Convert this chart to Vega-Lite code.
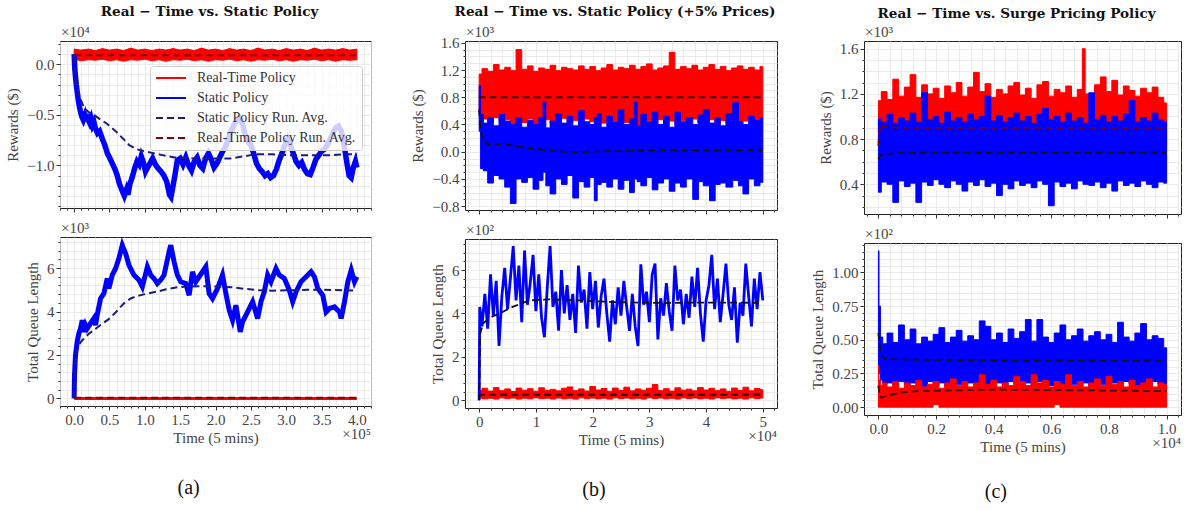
{
"$schema":"https://vega.github.io/schema/vega-lite/v6.json",
"background":"white",
"padding":{"left":5,"top":4,"right":5,"bottom":5},
"config":{
 "font":"Liberation Serif",
 "view":{"stroke":"#222222","strokeWidth":1},
 "axis":{"labelFont":"Liberation Serif","labelFontSize":15,"labelColor":"#444444","titleFont":"Liberation Serif","titleFontSize":15,"titleColor":"#444444","titleFontWeight":"normal","domain":false,"tickColor":"#333333","labelPadding":2,"gridWidth":0.8},
 "title":{"font":"DejaVu Serif","fontSize":13.6,"fontWeight":"bold","color":"#111111"}
},
"datasets":{
 "aTopBand":[{"x":0,"lo":0.05,"hi":0.15},{"x":0.1,"lo":0.035,"hi":0.14},{"x":0.2,"lo":0.045,"hi":0.15},{"x":0.3,"lo":0.04,"hi":0.135},{"x":0.4,"lo":0.05,"hi":0.155},{"x":0.5,"lo":0.035,"hi":0.14},{"x":0.6,"lo":0.045,"hi":0.15},{"x":0.7,"lo":0.03,"hi":0.135},{"x":0.8,"lo":0.045,"hi":0.16},{"x":0.9,"lo":0.04,"hi":0.14},{"x":1.0,"lo":0.05,"hi":0.15},{"x":1.1,"lo":0.035,"hi":0.135},{"x":1.2,"lo":0.045,"hi":0.15},{"x":1.3,"lo":0.03,"hi":0.14},{"x":1.4,"lo":0.045,"hi":0.155},{"x":1.5,"lo":0.04,"hi":0.14},{"x":1.6,"lo":0.05,"hi":0.15},{"x":1.7,"lo":0.035,"hi":0.135},{"x":1.8,"lo":0.045,"hi":0.16},{"x":1.9,"lo":0.03,"hi":0.14},{"x":2.0,"lo":0.045,"hi":0.15},{"x":2.1,"lo":0.04,"hi":0.135},{"x":2.2,"lo":0.05,"hi":0.155},{"x":2.3,"lo":0.035,"hi":0.14},{"x":2.4,"lo":0.045,"hi":0.15},{"x":2.5,"lo":0.03,"hi":0.135},{"x":2.6,"lo":0.045,"hi":0.16},{"x":2.7,"lo":0.04,"hi":0.14},{"x":2.8,"lo":0.05,"hi":0.15},{"x":2.9,"lo":0.035,"hi":0.135},{"x":3.0,"lo":0.045,"hi":0.155},{"x":3.1,"lo":0.03,"hi":0.14},{"x":3.2,"lo":0.045,"hi":0.15},{"x":3.3,"lo":0.04,"hi":0.135},{"x":3.4,"lo":0.05,"hi":0.16},{"x":3.5,"lo":0.035,"hi":0.14},{"x":3.6,"lo":0.045,"hi":0.15},{"x":3.7,"lo":0.03,"hi":0.14},{"x":3.8,"lo":0.045,"hi":0.155},{"x":3.9,"lo":0.04,"hi":0.14},{"x":4.0,"lo":0.045,"hi":0.15}],
 "aTopLines":[
  {"s":"Static Policy","x":0,"y":0.1},{"s":"Static Policy","x":0.01,"y":-0.05},{"s":"Static Policy","x":0.02,"y":-0.13},{"s":"Static Policy","x":0.03,"y":-0.2},{"s":"Static Policy","x":0.045,"y":-0.28},{"s":"Static Policy","x":0.06,"y":-0.36},{"s":"Static Policy","x":0.075,"y":-0.42},{"s":"Static Policy","x":0.09,"y":-0.47},{"s":"Static Policy","x":0.11,"y":-0.52},{"s":"Static Policy","x":0.13,"y":-0.55},{"s":"Static Policy","x":0.15,"y":-0.51},{"s":"Static Policy","x":0.165,"y":-0.56},{"s":"Static Policy","x":0.185,"y":-0.49},{"s":"Static Policy","x":0.2,"y":-0.55},{"s":"Static Policy","x":0.22,"y":-0.58},{"s":"Static Policy","x":0.24,"y":-0.54},{"s":"Static Policy","x":0.26,"y":-0.6},{"s":"Static Policy","x":0.28,"y":-0.57},{"s":"Static Policy","x":0.3,"y":-0.63},{"s":"Static Policy","x":0.33,"y":-0.68},{"s":"Static Policy","x":0.36,"y":-0.66},{"s":"Static Policy","x":0.4,"y":-0.74},{"s":"Static Policy","x":0.43,"y":-0.79},{"s":"Static Policy","x":0.47,"y":-0.88},{"s":"Static Policy","x":0.5,"y":-0.92},{"s":"Static Policy","x":0.54,"y":-0.98},{"s":"Static Policy","x":0.58,"y":-1.04},{"s":"Static Policy","x":0.61,"y":-1.1},{"s":"Static Policy","x":0.64,"y":-1.18},{"s":"Static Policy","x":0.68,"y":-1.25},{"s":"Static Policy","x":0.71,"y":-1.3},{"s":"Static Policy","x":0.74,"y":-1.24},{"s":"Static Policy","x":0.76,"y":-1.29},{"s":"Static Policy","x":0.79,"y":-1.18},{"s":"Static Policy","x":0.82,"y":-1.12},{"s":"Static Policy","x":0.86,"y":-1.02},{"s":"Static Policy","x":0.89,"y":-0.96},{"s":"Static Policy","x":0.92,"y":-0.99},{"s":"Static Policy","x":0.95,"y":-0.91},{"s":"Static Policy","x":0.98,"y":-0.97},{"s":"Static Policy","x":1.01,"y":-1.06},{"s":"Static Policy","x":1.04,"y":-1.02},{"s":"Static Policy","x":1.08,"y":-0.97},{"s":"Static Policy","x":1.11,"y":-0.93},{"s":"Static Policy","x":1.15,"y":-0.99},{"s":"Static Policy","x":1.19,"y":-1.03},{"s":"Static Policy","x":1.23,"y":-1.06},{"s":"Static Policy","x":1.27,"y":-1.1},{"s":"Static Policy","x":1.31,"y":-1.16},{"s":"Static Policy","x":1.35,"y":-1.29},{"s":"Static Policy","x":1.37,"y":-1.31},{"s":"Static Policy","x":1.4,"y":-1.2},{"s":"Static Policy","x":1.43,"y":-1.08},{"s":"Static Policy","x":1.46,"y":-0.95},{"s":"Static Policy","x":1.5,"y":-0.93},{"s":"Static Policy","x":1.54,"y":-0.99},{"s":"Static Policy","x":1.58,"y":-0.92},{"s":"Static Policy","x":1.62,"y":-1.0},{"s":"Static Policy","x":1.66,"y":-1.05},{"s":"Static Policy","x":1.7,"y":-0.96},{"s":"Static Policy","x":1.74,"y":-0.92},{"s":"Static Policy","x":1.78,"y":-1.0},{"s":"Static Policy","x":1.82,"y":-1.03},{"s":"Static Policy","x":1.86,"y":-0.93},{"s":"Static Policy","x":1.9,"y":-0.88},{"s":"Static Policy","x":1.94,"y":-0.94},{"s":"Static Policy","x":1.98,"y":-1.02},{"s":"Static Policy","x":2.02,"y":-0.98},{"s":"Static Policy","x":2.06,"y":-0.92},{"s":"Static Policy","x":2.1,"y":-0.86},{"s":"Static Policy","x":2.14,"y":-0.82},{"s":"Static Policy","x":2.18,"y":-0.74},{"s":"Static Policy","x":2.22,"y":-0.66},{"s":"Static Policy","x":2.26,"y":-0.6},{"s":"Static Policy","x":2.3,"y":-0.55},{"s":"Static Policy","x":2.34,"y":-0.53},{"s":"Static Policy","x":2.38,"y":-0.58},{"s":"Static Policy","x":2.42,"y":-0.7},{"s":"Static Policy","x":2.46,"y":-0.76},{"s":"Static Policy","x":2.5,"y":-0.8},{"s":"Static Policy","x":2.54,"y":-0.88},{"s":"Static Policy","x":2.58,"y":-0.98},{"s":"Static Policy","x":2.62,"y":-1.03},{"s":"Static Policy","x":2.66,"y":-1.06},{"s":"Static Policy","x":2.7,"y":-1.1},{"s":"Static Policy","x":2.74,"y":-1.08},{"s":"Static Policy","x":2.78,"y":-1.12},{"s":"Static Policy","x":2.82,"y":-1.1},{"s":"Static Policy","x":2.86,"y":-1.04},{"s":"Static Policy","x":2.9,"y":-0.95},{"s":"Static Policy","x":2.94,"y":-0.88},{"s":"Static Policy","x":2.98,"y":-0.8},{"s":"Static Policy","x":3.02,"y":-0.74},{"s":"Static Policy","x":3.06,"y":-0.8},{"s":"Static Policy","x":3.1,"y":-0.88},{"s":"Static Policy","x":3.14,"y":-0.96},{"s":"Static Policy","x":3.18,"y":-1.0},{"s":"Static Policy","x":3.22,"y":-0.97},{"s":"Static Policy","x":3.26,"y":-1.04},{"s":"Static Policy","x":3.3,"y":-1.08},{"s":"Static Policy","x":3.34,"y":-1.09},{"s":"Static Policy","x":3.38,"y":-1.02},{"s":"Static Policy","x":3.42,"y":-0.94},{"s":"Static Policy","x":3.46,"y":-0.9},{"s":"Static Policy","x":3.5,"y":-0.86},{"s":"Static Policy","x":3.54,"y":-0.84},{"s":"Static Policy","x":3.58,"y":-0.8},{"s":"Static Policy","x":3.62,"y":-0.74},{"s":"Static Policy","x":3.66,"y":-0.68},{"s":"Static Policy","x":3.7,"y":-0.63},{"s":"Static Policy","x":3.74,"y":-0.61},{"s":"Static Policy","x":3.78,"y":-0.66},{"s":"Static Policy","x":3.82,"y":-0.8},{"s":"Static Policy","x":3.86,"y":-0.98},{"s":"Static Policy","x":3.89,"y":-1.1},{"s":"Static Policy","x":3.92,"y":-1.12},{"s":"Static Policy","x":3.95,"y":-1.02},{"s":"Static Policy","x":3.98,"y":-0.96},{"s":"Static Policy","x":4.0,"y":-1.02},
  {"s":"Static Policy Run. Avg.","x":0,"y":0.08},{"s":"Static Policy Run. Avg.","x":0.01,"y":-0.05},{"s":"Static Policy Run. Avg.","x":0.025,"y":-0.15},{"s":"Static Policy Run. Avg.","x":0.05,"y":-0.25},{"s":"Static Policy Run. Avg.","x":0.1,"y":-0.36},{"s":"Static Policy Run. Avg.","x":0.14,"y":-0.43},{"s":"Static Policy Run. Avg.","x":0.2,"y":-0.47},{"s":"Static Policy Run. Avg.","x":0.28,"y":-0.5},{"s":"Static Policy Run. Avg.","x":0.38,"y":-0.55},{"s":"Static Policy Run. Avg.","x":0.47,"y":-0.59},{"s":"Static Policy Run. Avg.","x":0.6,"y":-0.67},{"s":"Static Policy Run. Avg.","x":0.7,"y":-0.74},{"s":"Static Policy Run. Avg.","x":0.78,"y":-0.8},{"s":"Static Policy Run. Avg.","x":0.89,"y":-0.84},{"s":"Static Policy Run. Avg.","x":1.0,"y":-0.86},{"s":"Static Policy Run. Avg.","x":1.2,"y":-0.89},{"s":"Static Policy Run. Avg.","x":1.42,"y":-0.92},{"s":"Static Policy Run. Avg.","x":1.7,"y":-0.93},{"s":"Static Policy Run. Avg.","x":2.0,"y":-0.93},{"s":"Static Policy Run. Avg.","x":2.21,"y":-0.93},{"s":"Static Policy Run. Avg.","x":2.4,"y":-0.91},{"s":"Static Policy Run. Avg.","x":2.55,"y":-0.89},{"s":"Static Policy Run. Avg.","x":2.8,"y":-0.89},{"s":"Static Policy Run. Avg.","x":3.1,"y":-0.9},{"s":"Static Policy Run. Avg.","x":3.4,"y":-0.9},{"s":"Static Policy Run. Avg.","x":3.63,"y":-0.9},{"s":"Static Policy Run. Avg.","x":3.8,"y":-0.89},{"s":"Static Policy Run. Avg.","x":4.0,"y":-0.89},
  {"s":"Real-Time Policy Run. Avg.","x":0,"y":0.088},{"s":"Real-Time Policy Run. Avg.","x":4.0,"y":0.088}
 ],
 "aBotBlue":[{"x":0,"y":0},{"x":0.005,"y":1.06},{"x":0.019,"y":1.98},{"x":0.043,"y":2.6},{"x":0.066,"y":2.98},{"x":0.09,"y":3.21},{"x":0.114,"y":3.6},{"x":0.137,"y":3.06},{"x":0.161,"y":3.37},{"x":0.184,"y":3.21},{"x":0.232,"y":3.45},{"x":0.279,"y":3.68},{"x":0.303,"y":3.37},{"x":0.326,"y":3.83},{"x":0.374,"y":4.6},{"x":0.421,"y":4.83},{"x":0.468,"y":5.52},{"x":0.492,"y":5.06},{"x":0.539,"y":5.68},{"x":0.586,"y":5.98},{"x":0.634,"y":6.45},{"x":0.681,"y":7.05},{"x":0.705,"y":6.85},{"x":0.728,"y":6.68},{"x":0.775,"y":6.14},{"x":0.846,"y":5.68},{"x":0.917,"y":5.45},{"x":0.965,"y":5.14},{"x":1.036,"y":6.06},{"x":1.083,"y":5.68},{"x":1.13,"y":5.52},{"x":1.177,"y":5.29},{"x":1.225,"y":5.45},{"x":1.272,"y":5.68},{"x":1.343,"y":6.75},{"x":1.367,"y":7.05},{"x":1.414,"y":6.29},{"x":1.461,"y":5.68},{"x":1.508,"y":5.37},{"x":1.579,"y":5.29},{"x":1.627,"y":4.75},{"x":1.674,"y":5.83},{"x":1.721,"y":5.37},{"x":1.768,"y":5.6},{"x":1.816,"y":5.83},{"x":1.863,"y":6.06},{"x":1.91,"y":4.83},{"x":1.958,"y":4.6},{"x":2.029,"y":5.06},{"x":2.099,"y":5.68},{"x":2.147,"y":4.83},{"x":2.194,"y":4.06},{"x":2.241,"y":3.6},{"x":2.289,"y":4.29},{"x":2.35,"y":3.06},{"x":2.383,"y":3.52},{"x":2.454,"y":3.98},{"x":2.525,"y":4.45},{"x":2.596,"y":3.68},{"x":2.643,"y":4.45},{"x":2.69,"y":4.91},{"x":2.738,"y":5.68},{"x":2.785,"y":5.37},{"x":2.856,"y":5.98},{"x":2.903,"y":5.68},{"x":2.974,"y":5.52},{"x":3.045,"y":4.98},{"x":3.092,"y":4.45},{"x":3.14,"y":4.91},{"x":3.21,"y":5.37},{"x":3.281,"y":5.6},{"x":3.352,"y":5.83},{"x":3.4,"y":5.6},{"x":3.447,"y":5.06},{"x":3.518,"y":4.75},{"x":3.565,"y":3.98},{"x":3.612,"y":4.14},{"x":3.683,"y":4.21},{"x":3.754,"y":3.98},{"x":3.778,"y":3.68},{"x":3.825,"y":4.45},{"x":3.872,"y":5.37},{"x":3.92,"y":5.91},{"x":3.967,"y":5.37},{"x":4.0,"y":5.6}],
 "aBotAvg":[{"x":0,"y":0},{"x":0.005,"y":1.0},{"x":0.019,"y":1.68},{"x":0.04,"y":2.2},{"x":0.066,"y":2.45},{"x":0.1,"y":2.62},{"x":0.137,"y":2.75},{"x":0.2,"y":2.95},{"x":0.28,"y":3.15},{"x":0.374,"y":3.38},{"x":0.49,"y":3.65},{"x":0.6,"y":4.0},{"x":0.705,"y":4.38},{"x":0.8,"y":4.6},{"x":0.9,"y":4.72},{"x":1.0,"y":4.8},{"x":1.177,"y":4.92},{"x":1.3,"y":5.02},{"x":1.461,"y":5.12},{"x":1.6,"y":5.15},{"x":1.8,"y":5.16},{"x":2.03,"y":5.15},{"x":2.22,"y":5.12},{"x":2.4,"y":5.05},{"x":2.6,"y":4.98},{"x":2.8,"y":4.96},{"x":3.07,"y":4.98},{"x":3.3,"y":5.0},{"x":3.54,"y":5.0},{"x":3.8,"y":4.98},{"x":4.0,"y":4.96}],
 "aBotRed":[{"x":0,"y":0},{"x":4.0,"y":0}],
 "aBotRedAvg":[{"x":0,"y":0.03},{"x":4.0,"y":0.03}],
 "bTopRed":[{"x":0,"lo":0.55,"hi":1.14},{"x":0.1,"lo":0.48,"hi":1.22},{"x":0.2,"lo":0.44,"hi":1.18},{"x":0.3,"lo":0.5,"hi":1.28},{"x":0.4,"lo":0.45,"hi":1.2},{"x":0.5,"lo":0.47,"hi":1.24},{"x":0.6,"lo":0.4,"hi":1.19},{"x":0.7,"lo":0.46,"hi":1.5},{"x":0.8,"lo":0.43,"hi":1.21},{"x":0.9,"lo":0.48,"hi":1.26},{"x":1.0,"lo":0.33,"hi":1.18},{"x":1.1,"lo":0.44,"hi":1.23},{"x":1.2,"lo":0.47,"hi":1.21},{"x":1.3,"lo":0.42,"hi":1.27},{"x":1.4,"lo":0.45,"hi":1.19},{"x":1.5,"lo":0.49,"hi":1.24},{"x":1.6,"lo":0.43,"hi":1.22},{"x":1.7,"lo":0.46,"hi":1.2},{"x":1.8,"lo":0.41,"hi":1.26},{"x":1.9,"lo":0.48,"hi":1.21},{"x":2.0,"lo":0.44,"hi":1.25},{"x":2.1,"lo":0.47,"hi":1.19},{"x":2.2,"lo":0.42,"hi":1.23},{"x":2.3,"lo":0.45,"hi":1.28},{"x":2.4,"lo":0.4,"hi":1.2},{"x":2.5,"lo":0.46,"hi":1.24},{"x":2.6,"lo":0.43,"hi":1.22},{"x":2.7,"lo":0.47,"hi":1.27},{"x":2.8,"lo":0.38,"hi":1.21},{"x":2.9,"lo":0.44,"hi":1.25},{"x":3.0,"lo":0.46,"hi":1.29},{"x":3.1,"lo":0.41,"hi":1.2},{"x":3.2,"lo":0.47,"hi":1.23},{"x":3.3,"lo":0.43,"hi":1.26},{"x":3.4,"lo":0.45,"hi":1.46},{"x":3.5,"lo":0.4,"hi":1.21},{"x":3.6,"lo":0.46,"hi":1.25},{"x":3.7,"lo":0.43,"hi":1.22},{"x":3.8,"lo":0.48,"hi":1.27},{"x":3.9,"lo":0.42,"hi":1.2},{"x":4.0,"lo":0.45,"hi":1.24},{"x":4.1,"lo":0.47,"hi":1.28},{"x":4.2,"lo":0.41,"hi":1.21},{"x":4.3,"lo":0.46,"hi":1.25},{"x":4.4,"lo":0.43,"hi":1.19},{"x":4.5,"lo":0.48,"hi":1.23},{"x":4.6,"lo":0.42,"hi":1.26},{"x":4.7,"lo":0.45,"hi":1.21},{"x":4.8,"lo":0.47,"hi":1.24},{"x":4.9,"lo":0.44,"hi":1.2},{"x":5.0,"lo":0.48,"hi":1.25}],
 "bTopBlue":[{"x":0,"lo":0.3,"hi":0.97},{"x":0.05,"lo":-0.25,"hi":0.55},{"x":0.1,"lo":-0.28,"hi":0.42},{"x":0.2,"lo":-0.46,"hi":0.5},{"x":0.3,"lo":-0.35,"hi":0.38},{"x":0.4,"lo":-0.4,"hi":0.55},{"x":0.5,"lo":-0.52,"hi":0.45},{"x":0.6,"lo":-0.76,"hi":0.4},{"x":0.7,"lo":-0.4,"hi":0.5},{"x":0.8,"lo":-0.45,"hi":0.36},{"x":0.9,"lo":-0.38,"hi":0.46},{"x":1.0,"lo":-0.55,"hi":0.4},{"x":1.1,"lo":-0.42,"hi":0.5},{"x":1.15,"lo":-0.3,"hi":0.73},{"x":1.2,"lo":-0.5,"hi":0.35},{"x":1.3,"lo":-0.62,"hi":0.45},{"x":1.4,"lo":-0.4,"hi":0.56},{"x":1.5,"lo":-0.48,"hi":0.42},{"x":1.6,"lo":-0.35,"hi":0.52},{"x":1.7,"lo":-0.68,"hi":0.38},{"x":1.8,"lo":-0.44,"hi":0.6},{"x":1.9,"lo":-0.52,"hi":0.44},{"x":2.0,"lo":-0.38,"hi":0.4},{"x":2.06,"lo":-0.72,"hi":0.5},{"x":2.1,"lo":-0.48,"hi":0.56},{"x":2.2,"lo":-0.45,"hi":0.36},{"x":2.3,"lo":-0.52,"hi":0.52},{"x":2.4,"lo":-0.4,"hi":0.43},{"x":2.5,"lo":-0.55,"hi":0.62},{"x":2.6,"lo":-0.42,"hi":0.4},{"x":2.7,"lo":-0.6,"hi":0.48},{"x":2.77,"lo":-0.4,"hi":0.73},{"x":2.8,"lo":-0.44,"hi":0.38},{"x":2.9,"lo":-0.5,"hi":0.55},{"x":3.0,"lo":-0.38,"hi":0.44},{"x":3.1,"lo":-0.56,"hi":0.58},{"x":3.2,"lo":-0.46,"hi":0.4},{"x":3.3,"lo":-0.4,"hi":0.52},{"x":3.4,"lo":-0.58,"hi":0.36},{"x":3.5,"lo":-0.46,"hi":0.58},{"x":3.6,"lo":-0.52,"hi":0.44},{"x":3.7,"lo":-0.4,"hi":0.5},{"x":3.83,"lo":-0.7,"hi":0.4},{"x":3.9,"lo":-0.44,"hi":0.54},{"x":4.0,"lo":-0.5,"hi":0.62},{"x":4.12,"lo":-0.72,"hi":0.42},{"x":4.2,"lo":-0.48,"hi":0.5},{"x":4.3,"lo":-0.46,"hi":0.38},{"x":4.4,"lo":-0.52,"hi":0.56},{"x":4.54,"lo":-0.42,"hi":0.72},{"x":4.6,"lo":-0.5,"hi":0.44},{"x":4.7,"lo":-0.62,"hi":0.4},{"x":4.8,"lo":-0.4,"hi":0.52},{"x":4.9,"lo":-0.5,"hi":0.46},{"x":5.0,"lo":-0.45,"hi":0.5}],
 "bTopAvgR":[{"x":0,"y":0.82},{"x":0.02,"y":0.8},{"x":5.0,"y":0.8}],
 "bTopAvgB":[{"x":0,"y":0.62},{"x":0.02,"y":0.35},{"x":0.05,"y":0.22},{"x":0.1,"y":0.15},{"x":0.15,"y":0.11},{"x":0.25,"y":0.1},{"x":0.4,"y":0.12},{"x":0.6,"y":0.09},{"x":0.8,"y":0.06},{"x":1.0,"y":0.04},{"x":1.3,"y":0.01},{"x":1.6,"y":-0.005},{"x":2.0,"y":0.0},{"x":2.5,"y":0.01},{"x":3.0,"y":0.02},{"x":4.0,"y":0.02},{"x":5.0,"y":0.02}],
 "bBotBlue":[{"x":0,"y":0},{"x":0.01,"y":4.3},{"x":0.05,"y":3.4},{"x":0.1,"y":4.9},{"x":0.15,"y":3.3},{"x":0.2,"y":5.8},{"x":0.25,"y":3.9},{"x":0.3,"y":5.5},{"x":0.35,"y":2.5},{"x":0.4,"y":4.8},{"x":0.45,"y":6.1},{"x":0.5,"y":4.2},{"x":0.55,"y":5.6},{"x":0.6,"y":7.1},{"x":0.65,"y":4.6},{"x":0.7,"y":6.2},{"x":0.75,"y":3.6},{"x":0.8,"y":6.9},{"x":0.85,"y":4.4},{"x":0.9,"y":5.4},{"x":0.95,"y":6.7},{"x":1.0,"y":4.1},{"x":1.05,"y":5.8},{"x":1.1,"y":3.8},{"x":1.15,"y":2.9},{"x":1.2,"y":5.2},{"x":1.25,"y":7.1},{"x":1.3,"y":4.3},{"x":1.35,"y":5.0},{"x":1.4,"y":3.2},{"x":1.45,"y":6.0},{"x":1.5,"y":4.0},{"x":1.55,"y":5.3},{"x":1.6,"y":3.7},{"x":1.65,"y":4.9},{"x":1.7,"y":3.1},{"x":1.75,"y":6.2},{"x":1.8,"y":4.5},{"x":1.85,"y":5.1},{"x":1.9,"y":3.3},{"x":1.95,"y":5.9},{"x":2.0,"y":4.2},{"x":2.05,"y":5.5},{"x":2.1,"y":3.35},{"x":2.15,"y":4.8},{"x":2.2,"y":5.6},{"x":2.25,"y":4.0},{"x":2.3,"y":2.7},{"x":2.35,"y":4.6},{"x":2.4,"y":3.5},{"x":2.45,"y":5.2},{"x":2.5,"y":3.9},{"x":2.55,"y":5.5},{"x":2.6,"y":4.3},{"x":2.65,"y":3.2},{"x":2.7,"y":4.9},{"x":2.75,"y":3.4},{"x":2.8,"y":2.5},{"x":2.85,"y":6.26},{"x":2.9,"y":4.4},{"x":2.95,"y":5.0},{"x":3.0,"y":3.6},{"x":3.05,"y":5.8},{"x":3.1,"y":6.3},{"x":3.15,"y":2.8},{"x":3.2,"y":4.7},{"x":3.25,"y":3.9},{"x":3.3,"y":5.4},{"x":3.35,"y":4.1},{"x":3.4,"y":3.2},{"x":3.45,"y":6.2},{"x":3.5,"y":4.6},{"x":3.55,"y":5.1},{"x":3.6,"y":3.5},{"x":3.65,"y":4.9},{"x":3.7,"y":3.8},{"x":3.75,"y":5.7},{"x":3.8,"y":4.3},{"x":3.85,"y":6.1},{"x":3.9,"y":4.0},{"x":3.95,"y":2.7},{"x":4.0,"y":4.6},{"x":4.05,"y":5.3},{"x":4.1,"y":6.7},{"x":4.15,"y":4.2},{"x":4.2,"y":5.6},{"x":4.25,"y":3.6},{"x":4.3,"y":4.9},{"x":4.35,"y":6.3},{"x":4.4,"y":4.4},{"x":4.45,"y":3.7},{"x":4.5,"y":5.2},{"x":4.55,"y":2.65},{"x":4.6,"y":4.5},{"x":4.65,"y":3.9},{"x":4.7,"y":6.3},{"x":4.75,"y":4.8},{"x":4.8,"y":3.4},{"x":4.85,"y":5.6},{"x":4.9,"y":4.2},{"x":4.95,"y":5.9},{"x":5.0,"y":4.6}],
 "bBotRed":[{"x":0,"lo":0.1,"hi":0.45},{"x":0.1,"lo":0.06,"hi":0.55},{"x":0.2,"lo":0.09,"hi":0.42},{"x":0.3,"lo":0.05,"hi":0.58},{"x":0.4,"lo":0.11,"hi":0.44},{"x":0.5,"lo":0.07,"hi":0.52},{"x":0.6,"lo":0.1,"hi":0.4},{"x":0.7,"lo":0.05,"hi":0.56},{"x":0.8,"lo":0.09,"hi":0.46},{"x":0.9,"lo":0.06,"hi":0.53},{"x":1.0,"lo":0.11,"hi":0.41},{"x":1.1,"lo":0.07,"hi":0.57},{"x":1.2,"lo":0.09,"hi":0.45},{"x":1.3,"lo":0.05,"hi":0.5},{"x":1.4,"lo":0.1,"hi":0.43},{"x":1.5,"lo":0.06,"hi":0.55},{"x":1.6,"lo":0.09,"hi":0.61},{"x":1.7,"lo":0.05,"hi":0.44},{"x":1.8,"lo":0.11,"hi":0.52},{"x":1.9,"lo":0.07,"hi":0.42},{"x":2.0,"lo":0.1,"hi":0.63},{"x":2.1,"lo":0.06,"hi":0.47},{"x":2.2,"lo":0.09,"hi":0.54},{"x":2.3,"lo":0.05,"hi":0.41},{"x":2.4,"lo":0.11,"hi":0.56},{"x":2.5,"lo":0.07,"hi":0.45},{"x":2.6,"lo":0.1,"hi":0.6},{"x":2.7,"lo":0.06,"hi":0.43},{"x":2.8,"lo":0.09,"hi":0.52},{"x":2.9,"lo":0.05,"hi":0.46},{"x":3.0,"lo":0.11,"hi":0.55},{"x":3.1,"lo":0.07,"hi":0.72},{"x":3.2,"lo":0.1,"hi":0.44},{"x":3.3,"lo":0.06,"hi":0.53},{"x":3.4,"lo":0.09,"hi":0.42},{"x":3.5,"lo":0.05,"hi":0.57},{"x":3.6,"lo":0.11,"hi":0.46},{"x":3.7,"lo":0.07,"hi":0.51},{"x":3.8,"lo":0.1,"hi":0.43},{"x":3.9,"lo":0.06,"hi":0.58},{"x":4.0,"lo":0.09,"hi":0.47},{"x":4.1,"lo":0.05,"hi":0.55},{"x":4.2,"lo":0.11,"hi":0.44},{"x":4.3,"lo":0.07,"hi":0.52},{"x":4.4,"lo":0.1,"hi":0.41},{"x":4.5,"lo":0.06,"hi":0.56},{"x":4.6,"lo":0.09,"hi":0.45},{"x":4.7,"lo":0.05,"hi":0.6},{"x":4.8,"lo":0.11,"hi":0.43},{"x":4.9,"lo":0.07,"hi":0.54},{"x":5.0,"lo":0.1,"hi":0.48}],
 "bBotAvgB":[{"x":0,"y":0},{"x":0.018,"y":3.06},{"x":0.065,"y":3.52},{"x":0.18,"y":3.8},{"x":0.36,"y":4.0},{"x":0.59,"y":4.3},{"x":0.89,"y":4.6},{"x":1.24,"y":4.65},{"x":1.77,"y":4.6},{"x":2.36,"y":4.52},{"x":3.24,"y":4.48},{"x":3.83,"y":4.5},{"x":4.95,"y":4.49}],
 "bBotAvgR":[{"x":0,"y":0.15},{"x":0.03,"y":0.25},{"x":5.0,"y":0.25}],
 "cTopRed":[{"x":0,"lo":0.75,"hi":1.14},{"x":0.02,"lo":0.75,"hi":1.22},{"x":0.04,"lo":0.75,"hi":1.15},{"x":0.06,"lo":0.75,"hi":1.33},{"x":0.08,"lo":0.75,"hi":1.18},{"x":0.1,"lo":0.75,"hi":1.26},{"x":0.12,"lo":0.75,"hi":1.37},{"x":0.14,"lo":0.75,"hi":1.17},{"x":0.16,"lo":0.75,"hi":1.28},{"x":0.18,"lo":0.75,"hi":1.2},{"x":0.2,"lo":0.75,"hi":1.25},{"x":0.22,"lo":0.75,"hi":1.16},{"x":0.24,"lo":0.75,"hi":1.27},{"x":0.26,"lo":0.75,"hi":1.21},{"x":0.28,"lo":0.75,"hi":1.3},{"x":0.3,"lo":0.75,"hi":1.18},{"x":0.32,"lo":0.75,"hi":1.26},{"x":0.34,"lo":0.75,"hi":1.39},{"x":0.36,"lo":0.75,"hi":1.22},{"x":0.38,"lo":0.75,"hi":1.29},{"x":0.4,"lo":0.75,"hi":1.17},{"x":0.42,"lo":0.75,"hi":1.24},{"x":0.44,"lo":0.75,"hi":1.2},{"x":0.46,"lo":0.75,"hi":1.27},{"x":0.48,"lo":0.75,"hi":1.3},{"x":0.5,"lo":0.75,"hi":1.19},{"x":0.52,"lo":0.75,"hi":1.25},{"x":0.54,"lo":0.75,"hi":1.16},{"x":0.56,"lo":0.75,"hi":1.28},{"x":0.58,"lo":0.75,"hi":1.31},{"x":0.6,"lo":0.75,"hi":1.18},{"x":0.62,"lo":0.75,"hi":1.24},{"x":0.64,"lo":0.75,"hi":1.21},{"x":0.66,"lo":0.75,"hi":1.27},{"x":0.68,"lo":0.75,"hi":1.17},{"x":0.7,"lo":0.75,"hi":1.24},{"x":0.715,"lo":0.75,"hi":1.6},{"x":0.72,"lo":0.75,"hi":1.2},{"x":0.74,"lo":0.75,"hi":1.2},{"x":0.76,"lo":0.75,"hi":1.28},{"x":0.78,"lo":0.75,"hi":1.35},{"x":0.8,"lo":0.75,"hi":1.22},{"x":0.82,"lo":0.75,"hi":1.32},{"x":0.84,"lo":0.75,"hi":1.19},{"x":0.86,"lo":0.75,"hi":1.27},{"x":0.88,"lo":0.75,"hi":1.23},{"x":0.9,"lo":0.75,"hi":1.18},{"x":0.92,"lo":0.75,"hi":1.25},{"x":0.94,"lo":0.75,"hi":1.21},{"x":0.96,"lo":0.75,"hi":1.26},{"x":0.98,"lo":0.75,"hi":1.17},{"x":1.0,"lo":0.75,"hi":1.12}],
 "cTopBlue":[{"x":0,"lo":0.33,"hi":0.98},{"x":0.02,"lo":0.42,"hi":0.95},{"x":0.04,"lo":0.4,"hi":1.02},{"x":0.06,"lo":0.24,"hi":0.94},{"x":0.08,"lo":0.43,"hi":0.99},{"x":0.1,"lo":0.38,"hi":0.96},{"x":0.12,"lo":0.41,"hi":1.03},{"x":0.14,"lo":0.24,"hi":0.95},{"x":0.16,"lo":0.42,"hi":1.21},{"x":0.18,"lo":0.39,"hi":0.97},{"x":0.2,"lo":0.44,"hi":1.0},{"x":0.22,"lo":0.4,"hi":0.94},{"x":0.24,"lo":0.37,"hi":1.04},{"x":0.26,"lo":0.43,"hi":0.96},{"x":0.28,"lo":0.4,"hi":0.99},{"x":0.3,"lo":0.34,"hi":0.95},{"x":0.32,"lo":0.42,"hi":1.02},{"x":0.34,"lo":0.39,"hi":0.97},{"x":0.36,"lo":0.44,"hi":1.0},{"x":0.38,"lo":0.38,"hi":1.18},{"x":0.4,"lo":0.41,"hi":0.96},{"x":0.42,"lo":0.3,"hi":1.01},{"x":0.44,"lo":0.4,"hi":0.95},{"x":0.46,"lo":0.36,"hi":0.99},{"x":0.48,"lo":0.43,"hi":1.03},{"x":0.5,"lo":0.39,"hi":0.96},{"x":0.52,"lo":0.41,"hi":1.0},{"x":0.54,"lo":0.37,"hi":0.94},{"x":0.56,"lo":0.43,"hi":1.02},{"x":0.58,"lo":0.4,"hi":1.07},{"x":0.6,"lo":0.21,"hi":0.97},{"x":0.62,"lo":0.42,"hi":1.0},{"x":0.64,"lo":0.38,"hi":0.95},{"x":0.66,"lo":0.41,"hi":1.03},{"x":0.68,"lo":0.36,"hi":0.96},{"x":0.7,"lo":0.43,"hi":0.99},{"x":0.72,"lo":0.4,"hi":0.94},{"x":0.74,"lo":0.39,"hi":1.21},{"x":0.76,"lo":0.42,"hi":0.97},{"x":0.78,"lo":0.37,"hi":1.01},{"x":0.8,"lo":0.41,"hi":0.95},{"x":0.82,"lo":0.34,"hi":1.0},{"x":0.84,"lo":0.43,"hi":0.96},{"x":0.86,"lo":0.39,"hi":1.02},{"x":0.88,"lo":0.41,"hi":1.14},{"x":0.9,"lo":0.38,"hi":0.95},{"x":0.92,"lo":0.43,"hi":0.99},{"x":0.94,"lo":0.4,"hi":0.96},{"x":0.96,"lo":0.37,"hi":1.03},{"x":0.98,"lo":0.42,"hi":0.97},{"x":1.0,"lo":0.41,"hi":0.95}],
 "cTopAvgR":[{"x":0,"y":0.74},{"x":0.003,"y":0.86},{"x":0.008,"y":0.93},{"x":0.015,"y":0.915},{"x":0.03,"y":0.905},{"x":0.1,"y":0.9},{"x":1.0,"y":0.9}],
 "cTopAvgB":[{"x":0,"y":0.62},{"x":0.004,"y":0.645},{"x":0.01,"y":0.66},{"x":0.03,"y":0.67},{"x":0.08,"y":0.678},{"x":0.2,"y":0.68},{"x":1.0,"y":0.68}],
 "cBotBlue":[{"x":0,"lo":0.3,"hi":1.16},{"x":0.004,"lo":0.25,"hi":0.75},{"x":0.01,"lo":0.2,"hi":0.52},{"x":0.02,"lo":0.17,"hi":0.47},{"x":0.04,"lo":0.18,"hi":0.55},{"x":0.06,"lo":0.15,"hi":0.48},{"x":0.08,"lo":0.19,"hi":0.61},{"x":0.1,"lo":0.16,"hi":0.5},{"x":0.12,"lo":0.18,"hi":0.58},{"x":0.14,"lo":0.17,"hi":0.47},{"x":0.16,"lo":0.15,"hi":0.52},{"x":0.18,"lo":0.19,"hi":0.49},{"x":0.2,"lo":0.16,"hi":0.54},{"x":0.22,"lo":0.18,"hi":0.59},{"x":0.24,"lo":0.15,"hi":0.48},{"x":0.26,"lo":0.19,"hi":0.52},{"x":0.28,"lo":0.17,"hi":0.57},{"x":0.3,"lo":0.16,"hi":0.49},{"x":0.32,"lo":0.18,"hi":0.53},{"x":0.34,"lo":0.15,"hi":0.5},{"x":0.36,"lo":0.19,"hi":0.64},{"x":0.38,"lo":0.17,"hi":0.6},{"x":0.4,"lo":0.16,"hi":0.5},{"x":0.42,"lo":0.18,"hi":0.55},{"x":0.44,"lo":0.15,"hi":0.48},{"x":0.46,"lo":0.19,"hi":0.58},{"x":0.48,"lo":0.17,"hi":0.51},{"x":0.5,"lo":0.16,"hi":0.56},{"x":0.52,"lo":0.18,"hi":0.65},{"x":0.54,"lo":0.15,"hi":0.49},{"x":0.56,"lo":0.19,"hi":0.65},{"x":0.58,"lo":0.17,"hi":0.52},{"x":0.6,"lo":0.16,"hi":0.48},{"x":0.62,"lo":0.18,"hi":0.55},{"x":0.64,"lo":0.15,"hi":0.61},{"x":0.66,"lo":0.19,"hi":0.5},{"x":0.68,"lo":0.17,"hi":0.53},{"x":0.7,"lo":0.16,"hi":0.58},{"x":0.72,"lo":0.18,"hi":0.49},{"x":0.74,"lo":0.15,"hi":0.53},{"x":0.76,"lo":0.19,"hi":0.56},{"x":0.78,"lo":0.17,"hi":0.5},{"x":0.8,"lo":0.16,"hi":0.54},{"x":0.82,"lo":0.18,"hi":0.48},{"x":0.84,"lo":0.15,"hi":0.63},{"x":0.86,"lo":0.19,"hi":0.52},{"x":0.88,"lo":0.17,"hi":0.49},{"x":0.9,"lo":0.16,"hi":0.55},{"x":0.92,"lo":0.18,"hi":0.62},{"x":0.94,"lo":0.15,"hi":0.5},{"x":0.96,"lo":0.19,"hi":0.53},{"x":0.98,"lo":0.17,"hi":0.51},{"x":1.0,"lo":0.16,"hi":0.44}],
 "cBotRed":[{"x":0,"lo":0,"hi":0.31},{"x":0.004,"lo":0,"hi":0.2},{"x":0.01,"lo":0,"hi":0.16},{"x":0.02,"lo":0,"hi":0.18},{"x":0.04,"lo":0,"hi":0.15},{"x":0.06,"lo":0,"hi":0.19},{"x":0.08,"lo":0,"hi":0.14},{"x":0.1,"lo":0,"hi":0.18},{"x":0.12,"lo":0,"hi":0.16},{"x":0.14,"lo":0,"hi":0.2},{"x":0.16,"lo":0,"hi":0.15},{"x":0.18,"lo":0,"hi":0.17},{"x":0.2,"lo":0.02,"hi":0.19},{"x":0.22,"lo":0,"hi":0.14},{"x":0.24,"lo":0,"hi":0.18},{"x":0.26,"lo":0,"hi":0.21},{"x":0.28,"lo":0,"hi":0.16},{"x":0.3,"lo":0,"hi":0.19},{"x":0.32,"lo":0,"hi":0.15},{"x":0.34,"lo":0,"hi":0.18},{"x":0.36,"lo":0,"hi":0.24},{"x":0.38,"lo":0,"hi":0.17},{"x":0.4,"lo":0,"hi":0.2},{"x":0.42,"lo":0,"hi":0.15},{"x":0.44,"lo":0,"hi":0.18},{"x":0.46,"lo":0,"hi":0.16},{"x":0.48,"lo":0,"hi":0.23},{"x":0.5,"lo":0,"hi":0.19},{"x":0.52,"lo":0,"hi":0.16},{"x":0.54,"lo":0,"hi":0.24},{"x":0.56,"lo":0,"hi":0.18},{"x":0.58,"lo":0,"hi":0.2},{"x":0.6,"lo":0,"hi":0.15},{"x":0.62,"lo":0.02,"hi":0.19},{"x":0.64,"lo":0,"hi":0.17},{"x":0.66,"lo":0,"hi":0.24},{"x":0.68,"lo":0,"hi":0.16},{"x":0.7,"lo":0,"hi":0.19},{"x":0.72,"lo":0,"hi":0.15},{"x":0.74,"lo":0,"hi":0.18},{"x":0.76,"lo":0,"hi":0.21},{"x":0.78,"lo":0,"hi":0.16},{"x":0.8,"lo":0,"hi":0.23},{"x":0.82,"lo":0,"hi":0.17},{"x":0.84,"lo":0,"hi":0.19},{"x":0.86,"lo":0,"hi":0.15},{"x":0.88,"lo":0,"hi":0.2},{"x":0.9,"lo":0,"hi":0.16},{"x":0.92,"lo":0,"hi":0.18},{"x":0.94,"lo":0,"hi":0.21},{"x":0.96,"lo":0,"hi":0.15},{"x":0.98,"lo":0,"hi":0.18},{"x":1.0,"lo":0,"hi":0.17}],
 "cBotAvgB":[{"x":0,"y":0.55},{"x":0.005,"y":0.44},{"x":0.012,"y":0.38},{"x":0.025,"y":0.36},{"x":0.05,"y":0.355},{"x":0.2,"y":0.35},{"x":0.5,"y":0.345},{"x":1.0,"y":0.345}],
 "cBotAvgR":[{"x":0,"y":0.16},{"x":0.004,"y":0.09},{"x":0.01,"y":0.07},{"x":0.03,"y":0.085},{"x":0.08,"y":0.11},{"x":0.15,"y":0.12},{"x":0.4,"y":0.13},{"x":0.7,"y":0.125},{"x":1.0,"y":0.12}]
},
"spacing":32,
"hconcat":[
{"spacing":38,"hconcat":[
{"title":{"text":"(a)","orient":"bottom","anchor":"middle","frame":"bounds","font":"Liberation Serif","fontSize":20,"fontWeight":"normal","offset":32,"color":"#111111"},
 "spacing":7,
 "vconcat":[
 {"width":311,"height":167,
  "title":{"text":"Real − Time vs. Static Policy","anchor":"middle","frame":"group","dx":-6,"offset":6},
  "resolve":{"axis":{"x":"independent","y":"independent"}},
  "layer":[
   {"data":{"name":"aTopBand"},"mark":{"type":"area","color":"#ff0000","stroke":"#ff0000","strokeWidth":1},
    "encoding":{"x":{"field":"x","type":"quantitative","scale":{"domain":[-0.2,4.2],"nice":false,"zero":false},"axis":{"orient":"bottom","values":[-0.2,-0.1,0,0.1,0.2,0.3,0.4,0.5,0.6,0.7,0.8,0.9,1,1.1,1.2,1.3,1.4,1.5,1.6,1.7,1.8,1.9,2,2.1,2.2,2.3,2.4,2.5,2.6,2.7,2.8,2.9,3,3.1,3.2,3.3,3.4,3.5,3.6,3.7,3.8,3.9,4,4.1,4.2],"gridColor":"#e6e6e6","labels":false,"tickSize":2,"title":null}},
     "y":{"field":"lo","type":"quantitative","scale":{"domain":[-1.42,0.23],"nice":false,"zero":false},"axis":{"orient":"left","values":[-1.4,-1.3,-1.2,-1.1,-1,-0.9,-0.8,-0.7,-0.6,-0.5,-0.4,-0.3,-0.2,-0.1,0,0.1,0.2],"gridColor":"#e6e6e6","labels":false,"tickSize":2,"title":null}},
     "y2":{"field":"hi"}}},
   {"data":{"name":"aTopLines"},"transform":[{"filter":"datum.s === 'Static Policy'"}],"mark":{"type":"line","strokeWidth":5.5},
    "encoding":{"x":{"field":"x","type":"quantitative","scale":{"domain":[-0.2,4.2],"nice":false,"zero":false},"axis":{"orient":"bottom","values":[0,0.5,1,1.5,2,2.5,3,3.5,4],"gridColor":"#b0b0b0","gridDash":[1.5,1.5],"labels":false,"tickSize":4,"title":null}},
     "y":{"field":"y","type":"quantitative","scale":{"domain":[-1.42,0.23],"nice":false,"zero":false},"axis":{"orient":"left","values":[-1,-0.5,0],"format":".1f","gridColor":"#b0b0b0","gridDash":[1.5,1.5],"tickSize":4,"title":"Rewards ($)","titlePadding":6}},
     "color":{"field":"s","type":"nominal","scale":{"domain":["Real-Time Policy","Static Policy","Static Policy Run. Avg.","Real-Time Policy Run. Avg."],"range":["#ff0000","#0000ff","#1c1c80","#8b0000"]},"legend":{"orient":"none","legendX":90,"legendY":25,"title":null,"symbolType":"stroke","symbolSize":900,"symbolStrokeWidth":2,"clipHeight":14,"labelFont":"Liberation Serif","labelFontSize":14,"labelColor":"#333333","labelOffset":10,"rowPadding":6,"padding":5,"fillColor":"rgba(255,255,255,0.8)","strokeColor":"#cccccc","cornerRadius":3}},
     "strokeDash":{"field":"s","type":"nominal","scale":{"domain":["Real-Time Policy","Static Policy","Static Policy Run. Avg.","Real-Time Policy Run. Avg."],"range":[[1,0],[1,0],[7,4],[7,4]]},"legend":{"orient":"none","legendX":90,"legendY":25,"title":null,"symbolType":"stroke","symbolSize":900,"symbolStrokeWidth":2,"clipHeight":14,"labelFont":"Liberation Serif","labelFontSize":14,"labelColor":"#333333","labelOffset":10,"rowPadding":6,"padding":5,"fillColor":"rgba(255,255,255,0.8)","strokeColor":"#cccccc","cornerRadius":3}}}},
   {"data":{"name":"aTopLines"},"transform":[{"filter":"datum.s !== 'Static Policy'"}],"mark":{"type":"line","strokeWidth":2},
    "encoding":{"x":{"field":"x","type":"quantitative","scale":{"domain":[-0.2,4.2],"nice":false,"zero":false},"axis":null},
     "y":{"field":"y","type":"quantitative","scale":{"domain":[-1.42,0.23],"nice":false,"zero":false},"axis":null},
     "color":{"field":"s","type":"nominal"},
     "strokeDash":{"field":"s","type":"nominal"}}},
   {"data":{"values":[{}]},"mark":{"type":"text","align":"left","baseline":"alphabetic","dx":1,"dy":-4,"fontSize":15,"color":"#444444","font":"Liberation Serif"},
    "encoding":{"x":{"datum":-0.2,"type":"quantitative","axis":null},"y":{"datum":0.23,"type":"quantitative","axis":null},"text":{"value":"×10⁴"}}}
  ]},
 {"width":311,"height":169,
  "resolve":{"axis":{"x":"independent","y":"independent"}},
  "layer":[
   {"data":{"name":"aBotRed"},"mark":{"type":"line","color":"#ff0000","strokeWidth":3},
    "encoding":{"x":{"field":"x","type":"quantitative","scale":{"domain":[-0.2,4.2],"nice":false,"zero":false},"axis":{"orient":"bottom","values":[-0.2,-0.1,0,0.1,0.2,0.3,0.4,0.5,0.6,0.7,0.8,0.9,1,1.1,1.2,1.3,1.4,1.5,1.6,1.7,1.8,1.9,2,2.1,2.2,2.3,2.4,2.5,2.6,2.7,2.8,2.9,3,3.1,3.2,3.3,3.4,3.5,3.6,3.7,3.8,3.9,4,4.1,4.2],"gridColor":"#e6e6e6","labels":false,"tickSize":2,"title":null}},
     "y":{"field":"y","type":"quantitative","scale":{"domain":[-0.35,7.43],"nice":false,"zero":false},"axis":{"orient":"left","values":[0,0.4,0.8,1.2,1.6,2,2.4,2.8,3.2,3.6,4,4.4,4.8,5.2,5.6,6,6.4,6.8,7.2],"gridColor":"#e6e6e6","labels":false,"tickSize":2,"title":null}}}},
   {"data":{"name":"aBotBlue"},"mark":{"type":"line","color":"#0000ff","strokeWidth":5},
    "encoding":{"x":{"field":"x","type":"quantitative","scale":{"domain":[-0.2,4.2],"nice":false,"zero":false},"axis":{"orient":"bottom","values":[0,0.5,1,1.5,2,2.5,3,3.5,4],"format":".1f","gridColor":"#b0b0b0","gridDash":[1.5,1.5],"tickSize":4,"title":"Time (5 mins)","titlePadding":3}},
     "y":{"field":"y","type":"quantitative","scale":{"domain":[-0.35,7.43],"nice":false,"zero":false},"axis":{"orient":"left","values":[0,2,4,6],"format":"d","gridColor":"#b0b0b0","gridDash":[1.5,1.5],"tickSize":4,"title":"Total Queue Length","titlePadding":6}}}},
   {"data":{"name":"aBotAvg"},"mark":{"type":"line","color":"#1c1c80","strokeWidth":2,"strokeDash":[7,4]},
    "encoding":{"x":{"field":"x","type":"quantitative","scale":{"domain":[-0.2,4.2],"nice":false,"zero":false},"axis":null},"y":{"field":"y","type":"quantitative","scale":{"domain":[-0.35,7.43],"nice":false,"zero":false},"axis":null}}},
   {"data":{"name":"aBotRedAvg"},"mark":{"type":"line","color":"#8b0000","strokeWidth":2,"strokeDash":[7,4]},
    "encoding":{"x":{"field":"x","type":"quantitative","scale":{"domain":[-0.2,4.2],"nice":false,"zero":false},"axis":null},"y":{"field":"y","type":"quantitative","scale":{"domain":[-0.35,7.43],"nice":false,"zero":false},"axis":null}}},
   {"data":{"values":[{}]},"mark":{"type":"text","align":"left","baseline":"alphabetic","dx":1,"dy":-4,"fontSize":15,"color":"#444444","font":"Liberation Serif"},
    "encoding":{"x":{"datum":-0.2,"type":"quantitative","axis":null},"y":{"datum":7.43,"type":"quantitative","axis":null},"text":{"value":"×10³"}}},
   {"data":{"values":[{}]},"mark":{"type":"text","align":"right","baseline":"alphabetic","dy":33,"fontSize":15,"color":"#444444","font":"Liberation Serif"},
    "encoding":{"x":{"datum":4.2,"type":"quantitative","axis":null},"y":{"datum":-0.35,"type":"quantitative","axis":null},"text":{"value":"×10⁵"}}}
  ]}
 ]},
{"title":{"text":"(b)","orient":"bottom","anchor":"middle","frame":"bounds","font":"Liberation Serif","fontSize":20,"fontWeight":"normal","offset":32,"color":"#111111"},
 "spacing":7,
 "vconcat":[
 {"width":312,"height":169,
  "title":{"text":"Real − Time vs. Static Policy (+5% Prices)","anchor":"middle","frame":"group","dx":-6,"offset":6},
  "resolve":{"axis":{"x":"independent","y":"independent"}},
  "layer":[
   {"data":{"name":"bTopRed"},"mark":{"type":"area","color":"#ff0000","interpolate":"step","stroke":"#ff0000","strokeWidth":1},
    "encoding":{"x":{"field":"x","type":"quantitative","scale":{"domain":[-0.25,5.25],"nice":false,"zero":false},"axis":{"orient":"bottom","values":[-0.2,0,0.2,0.4,0.6,0.8,1,1.2,1.4,1.6,1.8,2,2.2,2.4,2.6,2.8,3,3.2,3.4,3.6,3.8,4,4.2,4.4,4.6,4.8,5,5.2],"gridColor":"#e6e6e6","labels":false,"tickSize":2,"title":null}},
     "y":{"field":"lo","type":"quantitative","scale":{"domain":[-0.856,1.626],"nice":false,"zero":false},"axis":{"orient":"left","values":[-0.8,-0.7,-0.6,-0.5,-0.4,-0.3,-0.2,-0.1,0,0.1,0.2,0.3,0.4,0.5,0.6,0.7,0.8,0.9,1,1.1,1.2,1.3,1.4,1.5,1.6],"gridColor":"#e6e6e6","labels":false,"tickSize":2,"title":null}},
     "y2":{"field":"hi"}}},
   {"data":{"name":"bTopBlue"},"mark":{"type":"area","color":"#0000ff","interpolate":"step","stroke":"#0000ff","strokeWidth":1},
    "encoding":{"x":{"field":"x","type":"quantitative","scale":{"domain":[-0.25,5.25],"nice":false,"zero":false},"axis":{"orient":"bottom","values":[0,1,2,3,4,5],"gridColor":"#b0b0b0","gridDash":[1.5,1.5],"labels":false,"tickSize":4,"title":null}},
     "y":{"field":"lo","type":"quantitative","scale":{"domain":[-0.856,1.626],"nice":false,"zero":false},"axis":{"orient":"left","values":[-0.8,-0.4,0,0.4,0.8,1.2,1.6],"format":".1f","gridColor":"#b0b0b0","gridDash":[1.5,1.5],"tickSize":4,"title":"Rewards ($)","titlePadding":6}},
     "y2":{"field":"hi"}}},
   {"data":{"name":"bTopAvgR"},"mark":{"type":"line","strokeWidth":1.8,"strokeDash":[7,4],"color":"#3a0a0a"},
    "encoding":{"x":{"field":"x","type":"quantitative","scale":{"domain":[-0.25,5.25],"nice":false,"zero":false},"axis":null},"y":{"field":"y","type":"quantitative","scale":{"domain":[-0.856,1.626],"nice":false,"zero":false},"axis":null}}},
   {"data":{"name":"bTopAvgB"},"mark":{"type":"line","strokeWidth":1.8,"strokeDash":[7,4],"color":"#111111"},
    "encoding":{"x":{"field":"x","type":"quantitative","scale":{"domain":[-0.25,5.25],"nice":false,"zero":false},"axis":null},"y":{"field":"y","type":"quantitative","scale":{"domain":[-0.856,1.626],"nice":false,"zero":false},"axis":null}}},
   {"data":{"values":[{}]},"mark":{"type":"text","align":"left","baseline":"alphabetic","dx":1,"dy":-4,"fontSize":15,"color":"#444444","font":"Liberation Serif"},
    "encoding":{"x":{"datum":-0.25,"type":"quantitative","axis":null},"y":{"datum":1.626,"type":"quantitative","axis":null},"text":{"value":"×10³"}}}
  ]},
 {"width":312,"height":169,
  "resolve":{"axis":{"x":"independent","y":"independent"}},
  "layer":[
   {"data":{"name":"bBotRed"},"mark":{"type":"area","color":"#ff0000","interpolate":"step","stroke":"#ff0000","strokeWidth":1},
    "encoding":{"x":{"field":"x","type":"quantitative","scale":{"domain":[-0.25,5.25],"nice":false,"zero":false},"axis":{"orient":"bottom","values":[-0.2,0,0.2,0.4,0.6,0.8,1,1.2,1.4,1.6,1.8,2,2.2,2.4,2.6,2.8,3,3.2,3.4,3.6,3.8,4,4.2,4.4,4.6,4.8,5,5.2],"gridColor":"#e6e6e6","labels":false,"tickSize":2,"title":null}},
     "y":{"field":"lo","type":"quantitative","scale":{"domain":[-0.36,7.43],"nice":false,"zero":false},"axis":{"orient":"left","values":[0,0.4,0.8,1.2,1.6,2,2.4,2.8,3.2,3.6,4,4.4,4.8,5.2,5.6,6,6.4,6.8,7.2],"gridColor":"#e6e6e6","labels":false,"tickSize":2,"title":null}},
     "y2":{"field":"hi"}}},
   {"data":{"name":"bBotBlue"},"mark":{"type":"line","color":"#0000ff","strokeWidth":2.8},
    "encoding":{"x":{"field":"x","type":"quantitative","scale":{"domain":[-0.25,5.25],"nice":false,"zero":false},"axis":{"orient":"bottom","values":[0,1,2,3,4,5],"format":"d","gridColor":"#b0b0b0","gridDash":[1.5,1.5],"tickSize":4,"title":"Time (5 mins)","titlePadding":3}},
     "y":{"field":"y","type":"quantitative","scale":{"domain":[-0.36,7.43],"nice":false,"zero":false},"axis":{"orient":"left","values":[0,2,4,6],"format":"d","gridColor":"#b0b0b0","gridDash":[1.5,1.5],"tickSize":4,"title":"Total Queue Length","titlePadding":6}}}},
   {"data":{"name":"bBotAvgR"},"mark":{"type":"line","strokeWidth":1.8,"strokeDash":[7,4],"color":"#3a0a0a"},
    "encoding":{"x":{"field":"x","type":"quantitative","scale":{"domain":[-0.25,5.25],"nice":false,"zero":false},"axis":null},"y":{"field":"y","type":"quantitative","scale":{"domain":[-0.36,7.43],"nice":false,"zero":false},"axis":null}}},
   {"data":{"name":"bBotAvgB"},"mark":{"type":"line","strokeWidth":1.8,"strokeDash":[7,4],"color":"#111111"},
    "encoding":{"x":{"field":"x","type":"quantitative","scale":{"domain":[-0.25,5.25],"nice":false,"zero":false},"axis":null},"y":{"field":"y","type":"quantitative","scale":{"domain":[-0.36,7.43],"nice":false,"zero":false},"axis":null}}},
   {"data":{"values":[{}]},"mark":{"type":"text","align":"left","baseline":"alphabetic","dx":1,"dy":-4,"fontSize":15,"color":"#444444","font":"Liberation Serif"},
    "encoding":{"x":{"datum":-0.25,"type":"quantitative","axis":null},"y":{"datum":7.43,"type":"quantitative","axis":null},"text":{"value":"×10²"}}},
   {"data":{"values":[{}]},"mark":{"type":"text","align":"right","baseline":"alphabetic","dy":33,"fontSize":15,"color":"#444444","font":"Liberation Serif"},
    "encoding":{"x":{"datum":5.25,"type":"quantitative","axis":null},"y":{"datum":-0.36,"type":"quantitative","axis":null},"text":{"value":"×10⁴"}}}
  ]}
 ]}
]},
{"title":{"text":"(c)","orient":"bottom","anchor":"middle","frame":"bounds","font":"Liberation Serif","fontSize":20,"fontWeight":"normal","offset":27,"color":"#111111"},
 "spacing":7,
 "vconcat":[
 {"width":317,"height":173,
  "title":{"text":"Real − Time vs. Surge Pricing Policy","anchor":"middle","frame":"group","dx":-6,"offset":4},
  "resolve":{"axis":{"x":"independent","y":"independent"}},
  "layer":[
   {"data":{"name":"cTopRed"},"mark":{"type":"area","color":"#ff0000","interpolate":"step","stroke":"#ff0000","strokeWidth":1},
    "encoding":{"x":{"field":"x","type":"quantitative","scale":{"domain":[-0.05,1.05],"nice":false,"zero":false},"axis":{"orient":"bottom","values":[-0.04,0,0.04,0.08,0.12,0.16,0.2,0.24,0.28,0.32,0.36,0.4,0.44,0.48,0.52,0.56,0.6,0.64,0.68,0.72,0.76,0.8,0.84,0.88,0.92,0.96,1,1.04],"gridColor":"#e6e6e6","labels":false,"tickSize":2,"title":null}},
     "y":{"field":"lo","type":"quantitative","scale":{"domain":[0.137,1.668],"nice":false,"zero":false},"axis":{"orient":"left","values":[0.2,0.3,0.4,0.5,0.6,0.7,0.8,0.9,1,1.1,1.2,1.3,1.4,1.5,1.6],"gridColor":"#e6e6e6","labels":false,"tickSize":2,"title":null}},
     "y2":{"field":"hi"}}},
   {"data":{"name":"cTopBlue"},"mark":{"type":"area","color":"#0000ff","interpolate":"step","stroke":"#0000ff","strokeWidth":1},
    "encoding":{"x":{"field":"x","type":"quantitative","scale":{"domain":[-0.05,1.05],"nice":false,"zero":false},"axis":{"orient":"bottom","values":[0,0.2,0.4,0.6,0.8,1],"gridColor":"#b0b0b0","gridDash":[1.5,1.5],"labels":false,"tickSize":4,"title":null}},
     "y":{"field":"lo","type":"quantitative","scale":{"domain":[0.137,1.668],"nice":false,"zero":false},"axis":{"orient":"left","values":[0.4,0.8,1.2,1.6],"format":".1f","gridColor":"#b0b0b0","gridDash":[1.5,1.5],"tickSize":4,"title":"Rewards ($)","titlePadding":6}},
     "y2":{"field":"hi"}}},
   {"data":{"name":"cTopAvgR"},"mark":{"type":"line","strokeWidth":1.8,"strokeDash":[7,4],"color":"#7a0000"},
    "encoding":{"x":{"field":"x","type":"quantitative","scale":{"domain":[-0.05,1.05],"nice":false,"zero":false},"axis":null},"y":{"field":"y","type":"quantitative","scale":{"domain":[0.137,1.668],"nice":false,"zero":false},"axis":null}}},
   {"data":{"name":"cTopAvgB"},"mark":{"type":"line","strokeWidth":1.8,"strokeDash":[7,4],"color":"#111111"},
    "encoding":{"x":{"field":"x","type":"quantitative","scale":{"domain":[-0.05,1.05],"nice":false,"zero":false},"axis":null},"y":{"field":"y","type":"quantitative","scale":{"domain":[0.137,1.668],"nice":false,"zero":false},"axis":null}}},
   {"data":{"values":[{}]},"mark":{"type":"text","align":"left","baseline":"alphabetic","dx":1,"dy":-4,"fontSize":15,"color":"#444444","font":"Liberation Serif"},
    "encoding":{"x":{"datum":-0.05,"type":"quantitative","axis":null},"y":{"datum":1.668,"type":"quantitative","axis":null},"text":{"value":"×10³"}}}
  ]},
 {"width":317,"height":172,
  "resolve":{"axis":{"x":"independent","y":"independent"}},
  "layer":[
   {"data":{"name":"cBotBlue"},"mark":{"type":"area","color":"#0000ff","interpolate":"step","stroke":"#0000ff","strokeWidth":1},
    "encoding":{"x":{"field":"x","type":"quantitative","scale":{"domain":[-0.05,1.05],"nice":false,"zero":false},"axis":{"orient":"bottom","values":[-0.04,0,0.04,0.08,0.12,0.16,0.2,0.24,0.28,0.32,0.36,0.4,0.44,0.48,0.52,0.56,0.6,0.64,0.68,0.72,0.76,0.8,0.84,0.88,0.92,0.96,1,1.04],"gridColor":"#e6e6e6","labels":false,"tickSize":2,"title":null}},
     "y":{"field":"lo","type":"quantitative","scale":{"domain":[-0.058,1.218],"nice":false,"zero":false},"axis":{"orient":"left","values":[0,0.05,0.1,0.15,0.2,0.25,0.3,0.35,0.4,0.45,0.5,0.55,0.6,0.65,0.7,0.75,0.8,0.85,0.9,0.95,1,1.05,1.1,1.15,1.2],"gridColor":"#e6e6e6","labels":false,"tickSize":2,"title":null}},
     "y2":{"field":"hi"}}},
   {"data":{"name":"cBotRed"},"mark":{"type":"area","color":"#ff0000","interpolate":"step","stroke":"#ff0000","strokeWidth":1},
    "encoding":{"x":{"field":"x","type":"quantitative","scale":{"domain":[-0.05,1.05],"nice":false,"zero":false},"axis":{"orient":"bottom","values":[0,0.2,0.4,0.6,0.8,1],"format":".1f","gridColor":"#b0b0b0","gridDash":[1.5,1.5],"tickSize":4,"title":"Time (5 mins)","titlePadding":3}},
     "y":{"field":"lo","type":"quantitative","scale":{"domain":[-0.058,1.218],"nice":false,"zero":false},"axis":{"orient":"left","values":[0,0.25,0.5,0.75,1],"format":".2f","gridColor":"#b0b0b0","gridDash":[1.5,1.5],"tickSize":4,"title":"Total Queue Length","titlePadding":6}},
     "y2":{"field":"hi"}}},
   {"data":{"name":"cBotAvgR"},"mark":{"type":"line","strokeWidth":1.8,"strokeDash":[7,4],"color":"#3a0a0a"},
    "encoding":{"x":{"field":"x","type":"quantitative","scale":{"domain":[-0.05,1.05],"nice":false,"zero":false},"axis":null},"y":{"field":"y","type":"quantitative","scale":{"domain":[-0.058,1.218],"nice":false,"zero":false},"axis":null}}},
   {"data":{"name":"cBotAvgB"},"mark":{"type":"line","strokeWidth":1.8,"strokeDash":[7,4],"color":"#111111"},
    "encoding":{"x":{"field":"x","type":"quantitative","scale":{"domain":[-0.05,1.05],"nice":false,"zero":false},"axis":null},"y":{"field":"y","type":"quantitative","scale":{"domain":[-0.058,1.218],"nice":false,"zero":false},"axis":null}}},
   {"data":{"values":[{}]},"mark":{"type":"text","align":"left","baseline":"alphabetic","dx":1,"dy":-4,"fontSize":15,"color":"#444444","font":"Liberation Serif"},
    "encoding":{"x":{"datum":-0.05,"type":"quantitative","axis":null},"y":{"datum":1.218,"type":"quantitative","axis":null},"text":{"value":"×10²"}}},
   {"data":{"values":[{}]},"mark":{"type":"text","align":"right","baseline":"alphabetic","dy":33,"fontSize":15,"color":"#444444","font":"Liberation Serif"},
    "encoding":{"x":{"datum":1.05,"type":"quantitative","axis":null},"y":{"datum":-0.058,"type":"quantitative","axis":null},"text":{"value":"×10⁴"}}}
  ]}
 ]}
]
}
